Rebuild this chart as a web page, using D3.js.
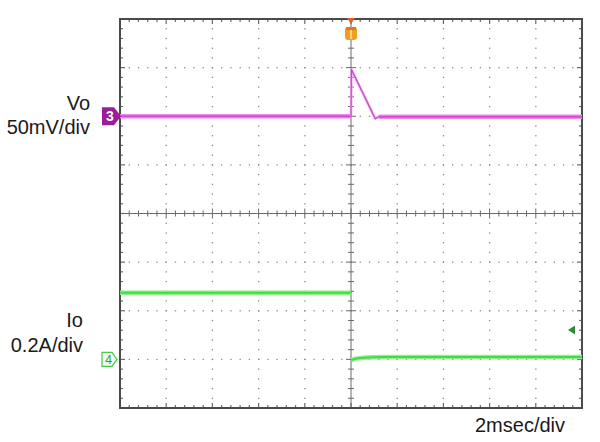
<!DOCTYPE html>
<html><head><meta charset="utf-8">
<script src="https://cdn.jsdelivr.net/npm/d3@7"></script>
<style>body{margin:0;background:#fff}svg{display:block}</style>
</head><body><svg id="c" width="600" height="442"></svg>
<script>
// ---- data ----
const timeDomain = [-10, 10];           // ms, 2 ms/div
const divDomain = [-4, 4];              // vertical divisions
// Ch3 Vo (mV), 50 mV/div, offset +2 div
const voTime = [-10, 0, 0.02, 1.05, 1.2, 10];
const voVal  = [0, 0, 48, -2.5, -0.5, -0.5];
// Ch4 Io (A), 0.2 A/div, offset -3 div
const ioBeforeTime = [-10, 0];
const ioBeforeVal  = [0.274, 0.274];
const ioAfterTime = [0.02, 0.15, 0.4, 0.7, 1.0, 1.5, 10];
const ioAfterVal  = [-0.003, 0.002, 0.006, 0.008, 0.009, 0.010, 0.010];
const labels = {vo: ["Vo", "50mV/div"], io: ["Io", "0.2A/div"], time: "2msec/div"};

// ---- layout ----
const svg = d3.select("#c");
const L = 120, R = 582, T = 19, B = 408;
const x = d3.scaleLinear().domain(timeDomain).range([L, R]);
const y = d3.scaleLinear().domain(divDomain).range([B, T]);
const voY = v => y(2 + v / 50);
const ioY = v => y(-3 + v / 0.2);

const g = svg.append("g");
const gridCol = "#8a8a8a";
// dotted grid
const minorX = d3.range(-10, 10.001, 0.4);
const minorY = d3.range(-4, 4.001, 0.2);
[-8,-6,-4,-2,2,4,6,8].forEach(t => {
  minorY.forEach(d => g.append("rect").attr("x", x(t)-0.6).attr("y", y(d)-0.6).attr("width",1.3).attr("height",1.3).attr("fill",gridCol));
});
[-3,-2,-1,1,2,3].forEach(d => {
  minorX.forEach(t => g.append("rect").attr("x", x(t)-0.6).attr("y", y(d)-0.6).attr("width",1.3).attr("height",1.3).attr("fill",gridCol));
});
// center axes
const axCol = "#6a6a6a";
g.append("line").attr("x1", L).attr("x2", R).attr("y1", y(0)).attr("y2", y(0)).attr("stroke", axCol).attr("stroke-width", 1);
g.append("line").attr("x1", x(0)).attr("x2", x(0)).attr("y1", T).attr("y2", B).attr("stroke", axCol).attr("stroke-width", 1);
minorX.forEach((t, i) => {
  const len = (i % 5 === 0) ? 5 : 3;
  g.append("line").attr("x1", x(t)).attr("x2", x(t)).attr("y1", y(0)-len).attr("y2", y(0)+len).attr("stroke", axCol);
  g.append("line").attr("x1", x(t)).attr("x2", x(t)).attr("y1", T).attr("y2", T+len).attr("stroke", axCol).attr("stroke-width",1.2);
  g.append("line").attr("x1", x(t)).attr("x2", x(t)).attr("y1", B).attr("y2", B-len).attr("stroke", axCol).attr("stroke-width",1.2);
});
minorY.forEach((d, i) => {
  const len = (i % 5 === 0) ? 5 : 3;
  g.append("line").attr("x1", x(0)-len).attr("x2", x(0)+len).attr("y1", y(d)).attr("y2", y(d)).attr("stroke", axCol);
  g.append("line").attr("x1", L).attr("x2", L+len).attr("y1", y(d)).attr("y2", y(d)).attr("stroke", axCol).attr("stroke-width",1.2);
  g.append("line").attr("x1", R).attr("x2", R-len).attr("y1", y(d)).attr("y2", y(d)).attr("stroke", axCol).attr("stroke-width",1.2);
});
// frame
g.append("rect").attr("x", L).attr("y", T).attr("width", R-L).attr("height", B-T)
  .attr("fill", "none").attr("stroke", "#4a4a4a").attr("stroke-width", 2);

// ---- traces ----
const line = (fy) => d3.line().x(d => x(d[0])).y(d => fy(d[1]));
const voData = d3.zip(voTime, voVal);
const voParts = [
  {dat: voData.slice(0, 2), thick: true},
  {dat: voData.slice(1, 5), thick: false},
  {dat: voData.slice(4), thick: true}
];
voParts.forEach(p => {
  if (p.thick) {
    svg.append("path").datum(p.dat).attr("d", line(voY)).attr("fill","none").attr("stroke","#ee8cee").attr("stroke-width",4.5).attr("stroke-linejoin","round");
    svg.append("path").datum(p.dat).attr("d", line(voY)).attr("fill","none").attr("stroke","#d84bd6").attr("stroke-width",2).attr("stroke-linejoin","round");
  } else {
    svg.append("path").datum(p.dat).attr("d", line(voY)).attr("fill","none").attr("stroke","#f0a8ee").attr("stroke-width",2.6).attr("stroke-linejoin","round");
    svg.append("path").datum(p.dat).attr("d", line(voY)).attr("fill","none").attr("stroke","#c844c6").attr("stroke-width",1.1).attr("stroke-linejoin","round");
  }
});
[d3.zip(ioBeforeTime, ioBeforeVal), d3.zip(ioAfterTime, ioAfterVal)].forEach(dat => {
  svg.append("path").datum(dat).attr("d", line(ioY)).attr("fill","none").attr("stroke","#8ef08e").attr("stroke-width",4.5);
  svg.append("path").datum(dat).attr("d", line(ioY)).attr("fill","none").attr("stroke","#46d846").attr("stroke-width",2);
});

// ---- markers ----
const m3y = voY(0);
svg.append("path").attr("d", `M102,${m3y-9} h12 l7,9 l-7,9 h-12 z`).attr("fill","#9b1d97");
svg.append("text").attr("x",110).attr("y",m3y+5).attr("text-anchor","middle").attr("fill","#fff")
  .attr("font-family","Liberation Sans, Arial, sans-serif").attr("font-weight","bold").attr("font-size",14).text("3");
const m4y = ioY(0);
svg.append("path").attr("d", `M102,${m4y-7} h10 l5,7 l-5,7 h-10 z`).attr("fill","#eefaee").attr("stroke","#4cc84c").attr("stroke-width",1.2);
svg.append("text").attr("x",108.5).attr("y",m4y+4.5).attr("text-anchor","middle").attr("fill","#2fa02f")
  .attr("font-family","Liberation Sans, Arial, sans-serif").attr("font-size",12).text("4");
// trigger marker
const tx = x(0);
svg.append("path").attr("d", `M${tx-4},${T-1} h8 l-4,6 z`).attr("fill","#e0602a");
svg.append("rect").attr("x", tx-6).attr("y", 27).attr("width", 12).attr("height", 13).attr("rx", 3).attr("fill","#f0a020");
svg.append("rect").attr("x", tx-1).attr("y", 29).attr("width", 2).attr("height", 10).attr("fill","#fbd080");
svg.append("rect").attr("x", tx-5).attr("y", 27).attr("width", 10).attr("height", 3).attr("fill","#e07a20");
// ch4 level arrow right
svg.append("path").attr("d", `M568,330 l7,-4.5 v9 z`).attr("fill","#2e8b3e");

// ---- labels ----
const font = "Liberation Sans, Arial, sans-serif";
const txt = (s, xx, yy, anchor) => svg.append("text").attr("x", xx).attr("y", yy).attr("text-anchor", anchor)
  .attr("font-family", font).attr("font-size", 20).attr("fill", "#1a1a1a").text(s);
txt(labels.vo[0], 90, 110, "end");
txt(labels.vo[1], 90, 134, "end");
txt(labels.io[0], 83, 327, "end");
txt(labels.io[1], 83, 352, "end");
txt(labels.time, 565, 432, "end");
</script></body></html>
